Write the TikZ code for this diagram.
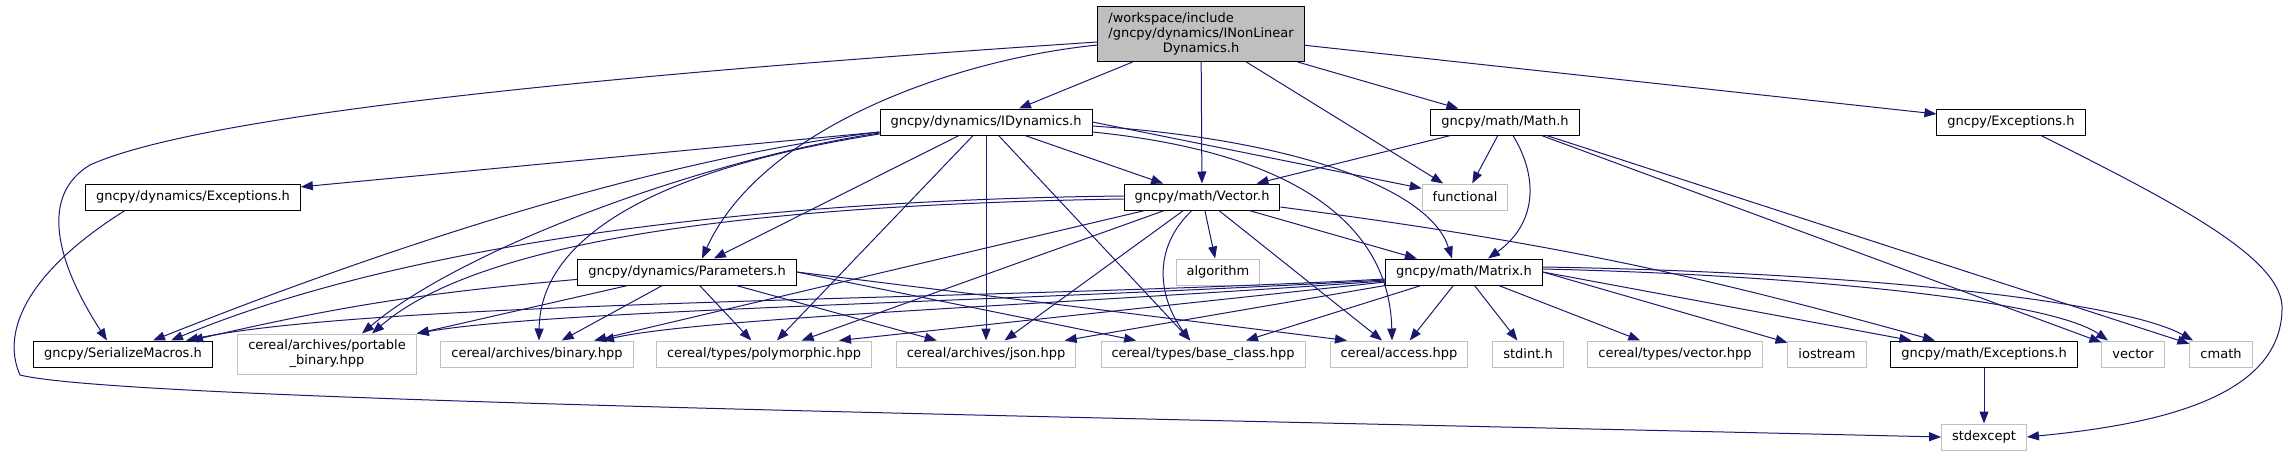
\documentclass[tikz,border=0pt]{standalone}
\usepackage{fontspec}
\setmainfont{DejaVu Sans}
\usetikzlibrary{arrows.meta, positioning}
\definecolor{EdgeBlue}{HTML}{191970}
\definecolor{BoxGrey}{HTML}{BFBFBF}

\begin{document}
\begin{tikzpicture}[
    x=1pt, y=-1pt,
    font=\fontsize{13}{15}\selectfont,
    hdr/.style={draw=black, line width=1pt, fill=white, inner xsep=10.5pt, inner ysep=3pt,
        minimum height=26pt, align=center},
    sys/.style={hdr, draw=BoxGrey},
    srcfile/.style={hdr, fill=BoxGrey, minimum height=55pt},
    inc/.style={draw=EdgeBlue, line width=1pt, -{Triangle[length=12pt, width=9pt]}},
]
\useasboundingbox (0,0) rectangle (2288,455);

% ---- file and first level ----
\node[srcfile] (inld) at (1201,34)
    {\begin{tabular}{@{}l@{}}/workspace/include\\/gncpy/dynamics/INonLinear\\\multicolumn{1}{@{}c@{}}{Dynamics.h}\end{tabular}};
\node[hdr] (idyn) at (986,122) {gncpy/dynamics/IDynamics.h};
\node[hdr] (mathh) at (1505,122) {gncpy/math/Math.h};
\node[hdr] (gexc) at (2011,122) {gncpy/Exceptions.h};

% ---- middle rows ----
\node[hdr] (dexc) at (193,197) {gncpy/dynamics/Exceptions.h};
\node[hdr] (vec) at (1202,197) {gncpy/math/Vector.h};
\node[sys] (func) at (1465,197) {functional};
\node[hdr] (params) at (687,272) {gncpy/dynamics/Parameters.h};
\node[sys] (algo) at (1218,272) {algorithm};
\node[hdr] (mat) at (1464,272) {gncpy/math/Matrix.h};

% ---- bottom row ----
\node[hdr] (smac) at (123,354) {gncpy/SerializeMacros.h};
\node[sys, minimum height=40pt] (pbin) at (327,354) {cereal/archives/portable\\\_binary.hpp};
\node[sys] (bin) at (537,354) {cereal/archives/binary.hpp};
\node[sys] (poly) at (764,354) {cereal/types/polymorphic.hpp};
\node[sys] (json) at (986,354) {cereal/archives/json.hpp};
\node[sys] (bcls) at (1203,354) {cereal/types/base\_class.hpp};
\node[sys] (acc) at (1399,354) {cereal/access.hpp};
\node[sys] (stdi) at (1528,354) {stdint.h};
\node[sys] (vhpp) at (1675,354) {cereal/types/vector.hpp};
\node[sys] (iost) at (1827,354) {iostream};
\node[hdr] (mexc) at (1984,354) {gncpy/math/Exceptions.h};
\node[sys] (vect) at (2133,354) {vector};
\node[sys] (cmat) at (2221,354) {cmath};
\node[sys, below=56pt of mexc] (stde) {stdexcept};

% INonLinearDynamics.h
\draw[inc] ([yshift=-8pt]inld.west) .. controls (600,75) and (200,115) .. (90,165)
    .. controls (40,195) and (55,260) .. ([xshift=-16pt]smac.north);
\draw[inc] ([yshift=-11pt]inld.west) .. controls (950,60) and (760,130) .. ([xshift=15pt]params.north);
\foreach \dst in {idyn,vec,func,mathh,gexc} \draw[inc] (inld) -- (\dst);

% IDynamics.h
\draw[inc] (idyn) -- (dexc);
\draw[inc] ([yshift=-10pt]idyn.west) .. controls (650,160) and (380,250) .. ([xshift=30pt]smac.north);
\draw[inc] ([yshift=-11pt]idyn.west) .. controls (700,160) and (460,250) .. ([xshift=35pt]pbin.north);
\draw[inc] ([yshift=-12pt]idyn.west) .. controls (650,170) and (540,240) .. ([xshift=2pt]bin.north);
\foreach \dst in {params,poly,json,bcls,vec} \draw[inc] (idyn) -- (\dst);
\draw[inc] (idyn.east) -- (func);
\draw[inc] ([yshift=-10pt]idyn.east) .. controls (1320,155) and (1390,240) .. ([xshift=-7pt]acc.north);
\draw[inc] ([yshift=-4pt]idyn.east) .. controls (1300,140) and (1430,190) .. ([xshift=-12pt]mat.north);

% Math.h
\foreach \dst in {vec,func,vect,cmat} \draw[inc] (mathh) -- (\dst);
\draw[inc] ([xshift=8pt]mathh.south) .. controls (1540,180) and (1535,225) .. ([xshift=24pt]mat.north);

% Vector.h
\draw[inc] ([yshift=1pt]vec.west) .. controls (750,200) and (400,245) .. ([xshift=48pt]smac.north);
\draw[inc] ([yshift=-2pt]vec.west) .. controls (750,205) and (480,240) .. ([xshift=45pt]pbin.north);
\foreach \dst in {bin,poly,json,algo,acc,mat} \draw[inc] (vec) -- (\dst);
\draw[inc] ([xshift=-10pt]vec.south) .. controls (1150,250) and (1160,300) .. ([xshift=-13pt]bcls.north);
\draw[inc] (vec) to[bend left=4] (mexc);

% Parameters.h
\draw[inc] (params) to[bend right=4] ([xshift=68pt]smac.north);
\foreach \dst in {pbin,bin,poly,json} \draw[inc] (params) -- (\dst);
\draw[inc] (params.east) -- (bcls);
\draw[inc] (params.east) -- ([xshift=-52pt]acc.north);

% Matrix.h
\draw[inc] ([yshift=-7pt]mat.west) .. controls (1000,300) and (380,300) .. ([xshift=63pt]smac.north);
\draw[inc] ([yshift=-8pt]mat.west) .. controls (1000,302) and (550,310) .. (pbin.north east);
\draw[inc] ([yshift=-9pt]mat.west) .. controls (1050,305) and (700,318) .. ([xshift=65pt]bin.north);
\draw[inc] ([yshift=-10pt]mat.west) -- ([xshift=75pt]poly.north);
\foreach \dst in {json,bcls,acc,stdi,vhpp} \draw[inc] (mat) -- (\dst);
\draw[inc] (mat.east) -- (iost);
\draw[inc] (mat.east) -- (mexc);
\draw[inc] ([yshift=3pt]mat.east) .. controls (1800,275) and (2050,300) .. ([xshift=-25pt]vect.north);
\draw[inc] ([yshift=5pt]mat.east) .. controls (1850,272) and (2120,300) .. ([xshift=-28pt]cmat.north);

% stdexcept
\draw[inc] (mexc) -- (stde);
\draw[inc] ([xshift=-68pt]dexc.south) .. controls (30,270) and (0,330) .. (20,375)
    .. controls (120,400) and (1000,415) .. (stde.west);
\draw[inc] ([xshift=30pt]gexc.south) .. controls (2180,205) and (2285,260) .. (2282,310)
    .. controls (2280,400) and (2150,425) .. (stde.east);

\end{tikzpicture}
\end{document}
